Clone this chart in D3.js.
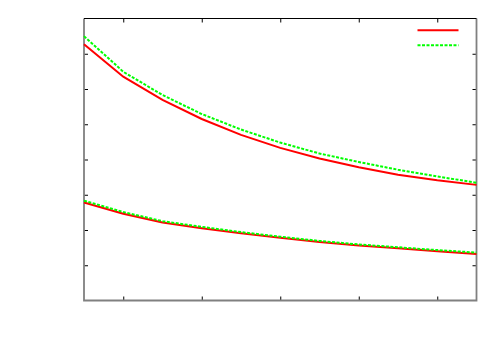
<!DOCTYPE html>
<html>
<head>
<meta charset="utf-8">
<script src="https://cdn.jsdelivr.net/npm/d3@7"></script>
<style>
body { margin: 0; background: #fff; }
</style>
</head>
<body>
<div class="graph"></div>
<script>
// data
var xs = [0, 1, 2, 3, 4, 5, 6, 7, 8, 9, 10];
var upperRed   = [7.27, 6.35, 5.69, 5.15, 4.70, 4.33, 4.03, 3.78, 3.57, 3.41, 3.28];
var upperGreen = [7.50, 6.49, 5.83, 5.29, 4.85, 4.48, 4.17, 3.93, 3.71, 3.52, 3.34];
var lowerRed   = [2.78, 2.46, 2.21, 2.05, 1.91, 1.78, 1.66, 1.56, 1.48, 1.40, 1.32];
var lowerGreen = [2.83, 2.51, 2.25, 2.09, 1.94, 1.81, 1.69, 1.59, 1.51, 1.43, 1.36];
var xTicks = [1, 3, 5, 7, 9];
var yTicks = [1, 2, 3, 4, 5, 6, 7];

var basewidth = 500;
var baseheight = 350;
var margin = {top: 18.5, right: 23.5, bottom: 49.5, left: 84},
    width = basewidth - margin.left - margin.right,
    height = baseheight - margin.top - margin.bottom

var svg = d3.select('.graph')
    .append('svg')
    .attr('width', basewidth)
    .attr('height', baseheight)
var canvas = svg.append("g")
    .attr("transform", "translate(" + margin.left + "," + margin.top + ")")

var x = d3.scaleLinear().domain([0, 10]).range([0, width])
var y = d3.scaleLinear().domain([0, 8]).range([height, 0])

// ticks pointing inward, no labels
function ticks(axis, tr) {
    var g = canvas.append('g')
        .attr('transform', tr)
        .call(axis.tickSizeInner(-4).tickSizeOuter(0).tickFormat(''))
    g.select('.domain').remove()
    g.selectAll('line').attr('stroke', '#000').attr('stroke-width', 1)
}
ticks(d3.axisBottom(x).tickValues(xTicks), 'translate(0,' + height + ')')
ticks(d3.axisTop(x).tickValues(xTicks), 'translate(0,0)')
ticks(d3.axisLeft(y).tickValues(yTicks), 'translate(0,0)')
ticks(d3.axisRight(y).tickValues(yTicks), 'translate(' + width + ',0)')

// frame
canvas.append('path')
    .attr('d', `M0,0 V${height} H${width} V0`)
    .attr('fill', 'none')
    .attr('stroke', '#808080')
    .attr('stroke-width', 1.8)
canvas.append('line')
    .attr('x1', 0).attr('x2', width)
    .attr('y1', 0).attr('y2', 0)
    .attr('stroke', '#000')
    .attr('stroke-width', 1)

var line = d3.line()
    .x(function(d, i) { return x(xs[i]) })
    .y(function(d) { return y(d) })

function drawSeries(vals, color, dash) {
    canvas.append('path')
        .datum(vals)
        .attr('d', line)
        .attr('fill', 'none')
        .attr('stroke', color)
        .attr('stroke-width', 2)
        .attr('stroke-dasharray', dash)
}
drawSeries(upperRed, '#ff0000', null)
drawSeries(lowerRed, '#ff0000', null)
drawSeries(upperGreen, '#00ff00', '3,1.5')
drawSeries(lowerGreen, '#00ff00', '3,1.5')

// legend, samples only
var legend = [
    {color: '#ff0000', dash: null, y: 30.3},
    {color: '#00ff00', dash: '3,1.5', y: 45.3}
]
svg.selectAll('.leg')
    .data(legend)
    .enter().append('line')
    .attr('class', 'leg')
    .attr('x1', 417.5).attr('x2', 458.5)
    .attr('y1', function(d) { return d.y })
    .attr('y2', function(d) { return d.y })
    .attr('stroke', function(d) { return d.color })
    .attr('stroke-width', 2)
    .attr('stroke-dasharray', function(d) { return d.dash })
</script>
</body>
</html>
